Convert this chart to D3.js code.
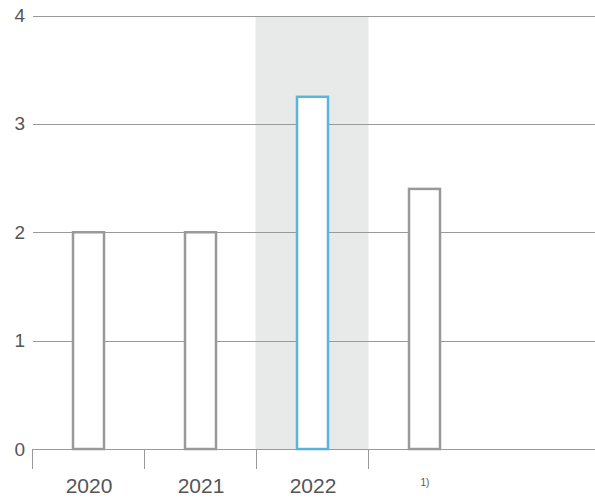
<!DOCTYPE html>
<html><head><meta charset="utf-8">
<script src="https://cdn.jsdelivr.net/npm/d3@7"></script>
<style>body{margin:0;background:#fff}svg{display:block}text{font-family:"Liberation Sans",Arial,sans-serif}</style>
</head><body>
<script>
const categories = ["2020", "2021", "2022", "1)", ""];
const values = [2, 2, 3.25, 2.4, null];
const yTicks = [0, 1, 2, 3, 4];
const highlight = "2022";

const W = 595, H = 498;
const svg = d3.select("body").append("svg").attr("width", W).attr("height", H);

const x = d3.scaleBand().domain(categories).range([33, 593]).padding(0);
const y = d3.scaleLinear().domain([0, 4]).range([449, 15.5]);

// highlight band
svg.append("rect")
  .attr("x", x(highlight) - 1.5).attr("y", y(4) + 1.5)
  .attr("width", x.bandwidth() + 1).attr("height", y(0) - y(4) - 1.5)
  .attr("fill", "#e8eaea");

// gridlines
const yAxis = d3.axisLeft(y).tickValues(yTicks).tickSize(0).tickPadding(0).tickFormat(d3.format("d"));
const gy = svg.append("g").attr("transform", "translate(33,0)");
gy.selectAll("line.grid").data(yTicks.filter(d => d > 0)).join("line")
  .attr("class", "grid")
  .attr("x1", 0).attr("x2", W - 33)
  .attr("y1", d => Math.round(y(d)) + 0.5).attr("y2", d => Math.round(y(d)) + 0.5)
  .attr("stroke", "#999").attr("stroke-width", 1);
const ya = svg.append("g").attr("transform", "translate(25,0)").call(yAxis);
ya.select(".domain").remove();
ya.selectAll("text").attr("font-size", 19).attr("fill", "#555").attr("x", 0);

// bars
const bw = 31;
svg.selectAll("rect.bar").data(categories.map((c, i) => ({c, v: values[i]})).filter(d => d.v != null))
  .join("rect").attr("class", "bar")
  .attr("x", d => x(d.c) + x.bandwidth() / 2 - bw / 2 - 0.5)
  .attr("y", d => y(d.v))
  .attr("width", bw)
  .attr("height", d => y(0) - y(d.v))
  .attr("fill", "#fff")
  .attr("stroke", d => d.c === highlight ? "#5ab4e0" : "#999")
  .attr("stroke-width", 2.5);

// x axis baseline
svg.append("line").attr("x1", 33).attr("x2", W).attr("y1", 449.5).attr("y2", 449.5)
  .attr("stroke", "#999").attr("stroke-width", 1);
// tick separators at left of each labelled category
svg.selectAll("line.tick").data(categories.slice(0, 4)).join("line").attr("class", "tick")
  .attr("x1", d => Math.round(x(d)) - 0.5).attr("x2", d => Math.round(x(d)) - 0.5)
  .attr("y1", 449).attr("y2", 469)
  .attr("stroke", "#999").attr("stroke-width", 1);

// x labels
svg.selectAll("text.xl").data(categories.filter(c => c !== "")).join("text").attr("class", "xl")
  .attr("x", d => x(d) + x.bandwidth() / 2)
  .attr("y", d => d === "1)" ? 486 : 493)
  .attr("text-anchor", "middle")
  .attr("font-size", d => d === "1)" ? 10 : 21)
  .attr("fill", "#555")
  .text(d => d);
</script>
</body></html>
